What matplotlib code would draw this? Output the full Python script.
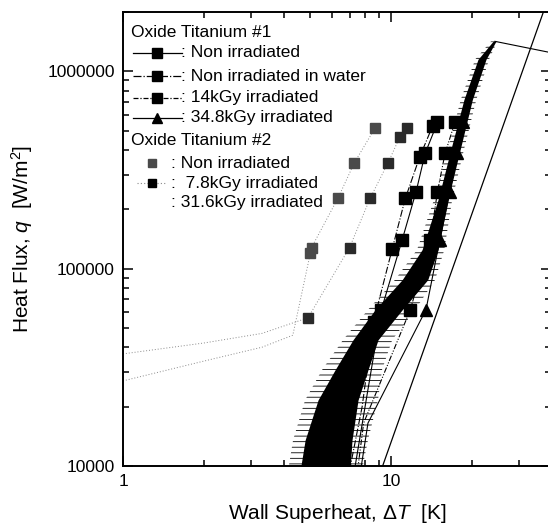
import matplotlib
matplotlib.use('Agg')
import matplotlib.pyplot as plt
from matplotlib.ticker import FixedLocator, LogLocator, NullFormatter, FuncFormatter

plt.rcParams['font.family'] = 'Liberation Sans'
plt.rcParams['mathtext.fontset'] = 'custom'
plt.rcParams['mathtext.rm'] = 'Liberation Sans'
plt.rcParams['mathtext.it'] = 'Liberation Sans:italic'
plt.rcParams['hatch.linewidth'] = 0.6

# Oxide Titanium #1 -- wall superheat [K] and heat flux [W/m2]
ni_dt = [7.3, 8.0, 9.2, 11.0, 12.4, 13.4, 14.9]
ni_q = [9500, 20000, 62000, 140000, 246000, 384000, 551000]
water_dt = [7.0, 7.8, 8.6, 10.1, 11.3, 12.8, 14.3]
water_q = [9500, 20000, 53800, 126000, 227000, 370000, 530000]
k14_dt = [7.5, 7.9, 11.8, 14.0, 14.9, 15.9, 17.3]
k14_q = [9500, 16500, 62000, 140000, 246000, 384000, 551000]
k348_dt = [7.7, 8.2, 13.5, 15.2, 16.6, 17.6, 18.6]
k348_q = [9500, 16500, 62000, 140000, 246000, 384000, 551000]

# raw boiling curve band (noisy measurement)
band_q = [9500, 13550, 21600, 30700, 43600, 61900, 87900, 124800,
          223800, 401000, 720000, 1151000, 1420000]
band_lo = [4.58, 4.78, 5.34, 6.18, 7.21, 8.71, 11.0, 13.05, 14.97, 16.7, 18.7, 21.1, 24.0]
band_hi = [7.03, 7.15, 7.53, 8.2, 8.94, 11.0, 13.7, 14.97, 16.3, 18.1, 20.1, 22.6, 24.6]
whisk_lo = [4.13, 4.31, 4.78, 5.53, 6.62, 8.2, 10.35, 12.5, 14.46, 16.3, 18.2, 20.6, 23.6]
whisk_hi = [7.79, 8.2, 8.94, 9.25, 10.1, 12.3, 14.6, 15.8, 16.9, 18.7, 20.8, 23.2, 24.9]

# CHF drop line and reference line
chf_dt = [24.4, 40.0]
chf_q = [1420000, 1240000]
ref_dt = [9.3, 37.0]
ref_q = [10000, 2000000]

# Oxide Titanium #2
t2_ni_dt = [1.0, 2.0, 3.3, 4.3, 5.0, 5.05, 6.35, 7.3, 8.7]
t2_ni_q = [27000, 34000, 40000, 46000, 120000, 128000, 229000, 345000, 514000]
t2_78_dt = [1.0, 2.0, 3.3, 4.9, 7.0, 8.35, 9.75, 10.8, 11.5]
t2_78_q = [37000, 42000, 47000, 56400, 128000, 227000, 345000, 467000, 514000]

fig = plt.figure(figsize=(5.48, 5.29), dpi=100)
ax = fig.add_axes([123/548, 1-466/529, (551-123)/548, (466-12)/529])
ax.set_xscale('log')
ax.set_yscale('log')
ax.set_xlim(1, 39.5)
ax.set_ylim(10000, 2000000)

# reference + chf lines
ax.plot(ref_dt, ref_q, color='black', lw=0.9)
ax.plot(chf_dt, chf_q, color='black', lw=0.8)

# noisy band
ax.fill_betweenx(band_q, whisk_lo, whisk_hi, facecolor='none', edgecolor='black',
                 hatch='---', lw=0)
ax.fill_betweenx(band_q, band_lo, band_hi, color='black', lw=0)

# Ti #1 series
ax.plot(ni_dt, ni_q, color='black', lw=0.8, ls='-', marker='s', ms=8,
        markevery=slice(2, None))
ax.plot(water_dt, water_q, color='black', lw=0.8, ls='-.', marker='s', ms=8,
        markevery=slice(2, None))
ax.plot(k14_dt, k14_q, color='black', lw=0.8, ls=(0, (5, 1.5, 1, 1.5, 1, 1.5)),
        marker='s', ms=8, markevery=slice(2, None))
ax.plot(k348_dt, k348_q, color='black', lw=0.8, ls='-', marker='^', ms=8,
        markevery=slice(2, None))

# Ti #2 series
ax.plot(t2_ni_dt, t2_ni_q, color='#8a8a8a', lw=0.7, ls=(0, (1, 2)), marker='s',
        ms=7, mfc='#4a4a4a', mec='#4a4a4a', markevery=slice(4, None))
ax.plot(t2_78_dt, t2_78_q, color='#8a8a8a', lw=0.7, ls=(0, (1, 2)), marker='s',
        ms=7, mfc='#2a2a2a', mec='#2a2a2a', markevery=slice(3, None))

# axes styling
for s in ax.spines.values():
    s.set_linewidth(1.4)
ax.xaxis.set_major_locator(FixedLocator([1, 10]))
ax.xaxis.set_minor_locator(LogLocator(base=10, subs=range(2, 10)))
ax.xaxis.set_major_formatter(FuncFormatter(lambda v, p: '%d' % v))
ax.xaxis.set_minor_formatter(NullFormatter())
ax.yaxis.set_major_locator(FixedLocator([10000, 100000, 1000000]))
ax.yaxis.set_minor_locator(LogLocator(base=10, subs=range(2, 10)))
ax.yaxis.set_major_formatter(FuncFormatter(lambda v, p: '%d' % v))
ax.yaxis.set_minor_formatter(NullFormatter())
ax.tick_params(which='both', direction='in', top=True, right=True, width=1.1,
               labelsize=12.5)
ax.tick_params(which='major', length=7, pad=6)
ax.tick_params(which='minor', length=4)

ax.set_xlabel(r'Wall Superheat, $\mathit{\Delta T}$  [K]', fontsize=15, labelpad=9)
ax.set_ylabel(r'Heat Flux, $\mathit{q}$  [W/m$^2$]', fontsize=15, labelpad=9)

# legend block drawn by hand
tr = ax.transAxes
fs = 12.5
ax.text(0.018, 0.954, 'Oxide Titanium #1', transform=tr, fontsize=fs, va='center')
rows1 = [(0.910, '-', 's', ': Non irradiated'),
         (0.859, '-.', 's', ': Non irradiated in water'),
         (0.811, (0, (4, 1.5, 1, 1.5)), 's', ': 14kGy irradiated'),
         (0.767, '-', '^', ': 34.8kGy irradiated')]
for yy, ls, mk, lab in rows1:
    ax.plot([0.023, 0.137], [yy, yy], transform=tr, color='black', lw=0.9, ls=ls)
    ax.plot([0.080], [yy], transform=tr, color='black', marker=mk, ms=7)
    ax.text(0.135, yy, lab, transform=tr, fontsize=fs, va='center')
ax.text(0.018, 0.718, 'Oxide Titanium #2', transform=tr, fontsize=fs, va='center')
ax.plot([0.068], [0.667], transform=tr, color='#4a4a4a', marker='s', ms=6)
ax.text(0.113, 0.667, ': Non irradiated', transform=tr, fontsize=fs, va='center')
ax.plot([0.033, 0.103], [0.623, 0.623], transform=tr, color='#8a8a8a', lw=0.8,
        ls=(0, (1, 2)))
ax.plot([0.068], [0.623], transform=tr, color='black', marker='s', ms=6)
ax.text(0.113, 0.623, ':  7.8kGy irradiated', transform=tr, fontsize=fs, va='center')
ax.text(0.113, 0.581, ': 31.6kGy irradiated', transform=tr, fontsize=fs, va='center')

fig.savefig('out.png', dpi=100)
